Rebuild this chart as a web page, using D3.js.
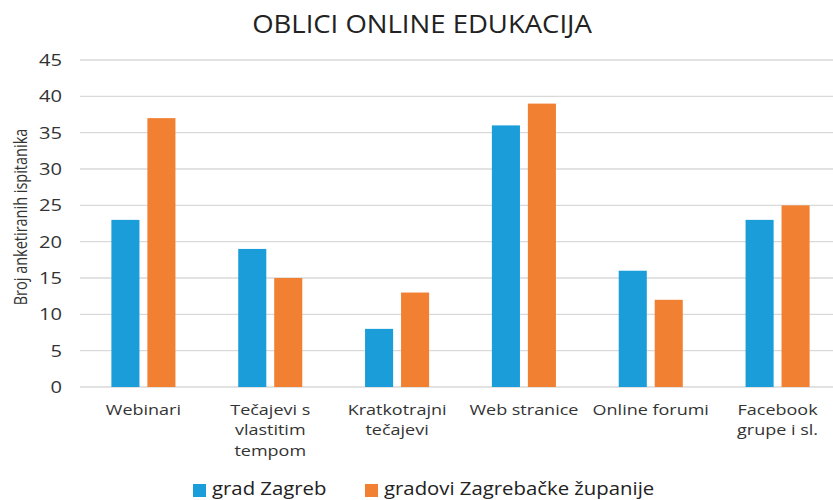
<!DOCTYPE html>
<html>
<head>
<meta charset="utf-8">
<script src="https://cdn.jsdelivr.net/npm/d3@7"></script>
<style>
  body { margin: 0; background: #fff; }
  text { font-family: "Open Sans", sans-serif; fill: #333; }
</style>
</head>
<body>
<div id="chart"></div>
<script>
// podaci
const categories = [["Webinari"], ["Tečajevi s", "vlastitim", "tempom"], ["Kratkotrajni", "tečajevi"], ["Web stranice"], ["Online forumi"], ["Facebook", "grupe i sl."]];
const series = ["grad Zagreb", "gradovi Zagrebačke županije"];
const zagreb = [23, 19, 8, 36, 16, 23];
const zupanija = [37, 15, 13, 39, 12, 25];
const yTicks = [0, 5, 10, 15, 20, 25, 30, 35, 40, 45];
const colors = ["#1a9dd9", "#f28033"];

const width = 833, height = 500;
const margin = { top: 60, right: -8, bottom: 113, left: 80 };

const svg = d3.select("#chart").append("svg")
    .attr("width", width)
    .attr("height", height);

// tekst rastegnut vodoravno (original je slika razvučena u širinu)
function wideText(parent, x, y, sx, size, anchor) {
    return parent.append("text")
        .attr("transform", `translate(${x},${y}) scale(${sx},1)`)
        .style("font-size", size + "px")
        .style("text-anchor", anchor);
}

const x0 = d3.scaleBand()
    .domain(d3.range(categories.length))
    .range([margin.left, width - margin.right])
    .paddingInner(0.495)
    .paddingOuter(0.2475);

const x1 = d3.scaleBand()
    .domain([0, 1])
    .range([0, x0.bandwidth()])
    .paddingInner(0.22);

const y = d3.scaleLinear()
    .domain([0, 45])
    .range([height - margin.bottom, margin.top]);

// mreža
svg.append("g")
    .selectAll("line")
    .data(yTicks)
    .enter()
    .append("line")
    .attr("x1", margin.left)
    .attr("x2", width)
    .attr("y1", d => y(d))
    .attr("y2", d => y(d))
    .style("stroke", "#d9d9d9")
    .style("stroke-width", 1.3);

// oznake y osi
const yAxisG = svg.append("g");
yTicks.forEach(t => {
    wideText(yAxisG, 62, y(t) + 6, 1.3, 15.5, "end").text(t);
});

// stupci
const rows = categories.map((c, i) => [zagreb[i], zupanija[i]]);
const groups = svg.append("g")
    .selectAll("g")
    .data(rows)
    .enter()
    .append("g")
    .attr("transform", (d, i) => `translate(${x0(i)},0)`);

groups.selectAll("rect")
    .data(d => d)
    .enter()
    .append("rect")
    .attr("x", (d, j) => x1(j))
    .attr("y", d => y(d))
    .attr("width", x1.bandwidth())
    .attr("height", d => y(0) - y(d))
    .style("fill", (d, j) => colors[j]);

// oznake kategorija
const xAxisG = svg.append("g");
categories.forEach((lines, i) => {
    const t = wideText(xAxisG, x0(i) + x0.bandwidth() / 2, 415, 1.2, 15, "middle");
    t.selectAll("tspan")
        .data(lines)
        .enter()
        .append("tspan")
        .attr("x", 0)
        .attr("dy", (d, k) => k === 0 ? 0 : 20.5)
        .text(d => d);
});

// naslov
wideText(svg, 422, 33, 1.1, 25, "middle")
    .style("fill", "#222")
    .text("OBLICI ONLINE EDUKACIJA");

// naslov y osi
svg.append("text")
    .attr("transform", "translate(27,217) rotate(-90) scale(1,1.2)")
    .style("text-anchor", "middle")
    .style("font-size", "14.5px")
    .text("Broj anketiranih ispitanika");

// legenda
const legendX = [193, 365];
series.forEach((s, j) => {
    svg.append("rect")
        .attr("x", legendX[j])
        .attr("y", 484)
        .attr("width", 13)
        .attr("height", 13)
        .style("fill", colors[j]);
    wideText(svg, legendX[j] + 19, 495, 1.13, 18, "start")
        .style("fill", "#222")
        .text(s);
});
</script>
</body>
</html>
